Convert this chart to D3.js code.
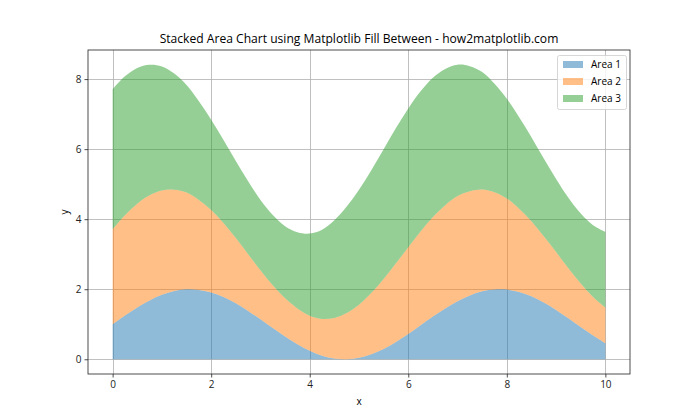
<!DOCTYPE html>
<html><head><meta charset="utf-8">
<script src="https://cdn.jsdelivr.net/npm/d3@7"></script>
<style>body{margin:0;background:#fff}svg{display:block}text{font-family:"Open Sans","Noto Sans",sans-serif}</style>
</head><body><svg id="c" width="700" height="420"></svg>
<script>
const xs = [0,0.25,0.5,0.75,1,1.25,1.5,1.75,2,2.25,2.5,2.75,3,3.25,3.5,3.75,4,4.25,4.5,4.75,5,5.25,5.5,5.75,6,6.25,6.5,6.75,7,7.25,7.5,7.75,8,8.25,8.5,8.75,9,9.25,9.5,9.75,10];
const area1 = [1.00,1.25,1.48,1.68,1.84,1.95,2.00,1.98,1.91,1.78,1.60,1.38,1.14,0.89,0.65,0.43,0.24,0.10,0.02,0.00,0.04,0.14,0.29,0.49,0.72,0.97,1.22,1.45,1.66,1.82,1.94,1.99,1.99,1.92,1.80,1.62,1.41,1.17,0.92,0.68,0.46];
const area2 = [2.71,2.86,2.96,3.00,2.98,2.89,2.76,2.57,2.35,2.11,1.86,1.62,1.40,1.22,1.09,1.02,1.00,1.05,1.16,1.32,1.52,1.75,2.00,2.25,2.48,2.68,2.84,2.95,3.00,2.98,2.91,2.78,2.60,2.38,2.14,1.89,1.65,1.43,1.24,1.10,1.02];
const area3 = [4.00,3.97,3.88,3.73,3.54,3.32,3.07,2.82,2.58,2.37,2.20,2.08,2.01,2.01,2.06,2.18,2.35,2.55,2.79,3.04,3.28,3.51,3.71,3.86,3.96,4.00,3.98,3.89,3.75,3.57,3.35,3.10,2.85,2.61,2.40,2.22,2.09,2.01,2.00,2.05,2.16];
const seriesNames = ["Area 1","Area 2","Area 3"];
const colors = ["#1f77b4","#ff7f0e","#2ca02c"];
const xTicks = [0,2,4,6,8,10];
const yTicks = [0,2,4,6,8];
const title = "Stacked Area Chart using Matplotlib Fill Between - how2matplotlib.com";

const svg = d3.select("#c");
const L=88, R=630, T=50, B=374;
const table = xs.map((x,i)=>({x, "Area 1":area1[i], "Area 2":area2[i], "Area 3":area3[i]}));
const stack = d3.stack().keys(seriesNames)(table);
const ymax = d3.max(stack[2], d=>d[1]);
const x = d3.scaleLinear().domain([-0.5,10.5]).range([L,R]);
const y = d3.scaleLinear().domain([-0.05*ymax, ymax*1.05]).range([B,T]);

// grid
const g = svg.append("g");
g.selectAll(".gx").data(xTicks).join("line").attr("x1",d=>Math.round(x(d))+0.5).attr("x2",d=>Math.round(x(d))+0.5).attr("y1",T).attr("y2",B).attr("stroke","#b0b0b0").attr("stroke-width",0.8);
g.selectAll(".gy").data(yTicks).join("line").attr("y1",d=>Math.round(y(d))+0.5).attr("y2",d=>Math.round(y(d))+0.5).attr("x1",L).attr("x2",R).attr("stroke","#b0b0b0").attr("stroke-width",0.8);

const area = d3.area().x(d=>x(d.data.x)).y0(d=>y(d[0])).y1(d=>y(d[1])).curve(d3.curveCatmullRom);
svg.append("g").selectAll("path").data(stack).join("path")
  .attr("d",area).attr("fill",(d,i)=>colors[i]).attr("fill-opacity",0.5);

// axes
const xa = svg.append("g").attr("transform",`translate(0,${B})`).call(d3.axisBottom(x).tickValues(xTicks).tickSize(3.5).tickPadding(3).tickFormat(d3.format("d")));
const ya = svg.append("g").attr("transform",`translate(${L},0)`).call(d3.axisLeft(y).tickValues(yTicks).tickSize(3.5).tickPadding(3).tickFormat(d3.format("d")));
[xa,ya].forEach(a=>{a.select(".domain").remove();a.selectAll("text").attr("font-size",10).attr("fill","#222").style("font-family",'"Open Sans","Noto Sans",sans-serif');a.selectAll("line").attr("stroke","#222").attr("stroke-width",0.8);});
svg.append("rect").attr("x",L).attr("y",T).attr("width",R-L).attr("height",B-T).attr("fill","none").attr("stroke","#222").attr("stroke-width",0.8);

svg.append("text").attr("x",(L+R)/2).attr("y",T-7).attr("text-anchor","middle").attr("font-size",12.1).attr("fill","#000").text(title);
svg.append("text").attr("x",(L+R)/2).attr("y",405).attr("text-anchor","middle").attr("font-size",10).attr("fill","#000").text("x");
svg.append("text").attr("transform",`translate(68,${(T+B)/2}) rotate(-90)`).attr("text-anchor","middle").attr("font-size",10).attr("fill","#000").text("y");

// legend
const lg = svg.append("g").attr("transform","translate(557,55)");
lg.append("rect").attr("x",0.5).attr("y",0.5).attr("width",69).attr("height",54).attr("rx",2).attr("fill","#fff").attr("fill-opacity",0.8).attr("stroke","#ccc").attr("stroke-width",0.8);
seriesNames.forEach((n,i)=>{
  lg.append("rect").attr("x",6).attr("y",6+i*17).attr("width",20).attr("height",7).attr("fill",colors[i]).attr("fill-opacity",0.5);
  lg.append("text").attr("x",34).attr("y",13+i*17).attr("font-size",10).attr("fill","#000").text(n);
});
</script></body></html>
